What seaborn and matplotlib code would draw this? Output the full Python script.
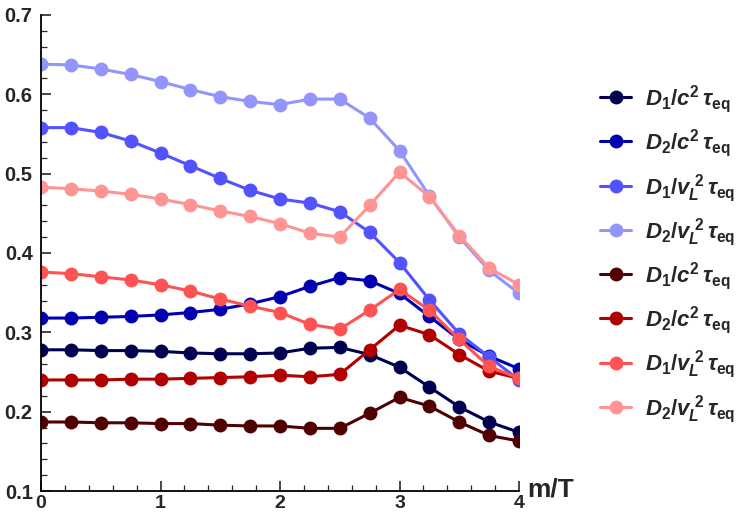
"""Transport coefficients vs m/T, eight series with markers."""

import matplotlib
matplotlib.use("Agg")
import matplotlib.pyplot as plt
import pandas as pd
import seaborn as sns
from matplotlib.ticker import FuncFormatter, MultipleLocator

m_over_t = [0, 0.25, 0.5, 0.75, 1, 1.25, 1.5, 1.75, 2,
            2.25, 2.5, 2.75, 3, 3.25, 3.5, 3.75, 4]

blue_d1_c2 = [0.278, 0.278, 0.277, 0.277, 0.276, 0.274, 0.273, 0.273, 0.274,
              0.280, 0.281, 0.272, 0.256, 0.231, 0.206, 0.187, 0.174]
blue_d2_c2 = [0.318, 0.318, 0.319, 0.320, 0.322, 0.325, 0.329, 0.336, 0.345,
              0.358, 0.369, 0.365, 0.349, 0.320, 0.291, 0.270, 0.254]
blue_d1_vl2 = [0.558, 0.558, 0.552, 0.541, 0.526, 0.510, 0.494, 0.479, 0.468,
               0.463, 0.452, 0.426, 0.388, 0.341, 0.298, 0.269, 0.240]
blue_d2_vl2 = [0.638, 0.637, 0.632, 0.625, 0.616, 0.606, 0.597, 0.591, 0.587,
               0.594, 0.594, 0.570, 0.529, 0.472, 0.420, 0.378, 0.349]
red_d1_c2 = [0.187, 0.187, 0.186, 0.186, 0.185, 0.185, 0.183, 0.182, 0.182,
             0.179, 0.179, 0.198, 0.218, 0.207, 0.187, 0.170, 0.163]
red_d2_c2 = [0.240, 0.240, 0.240, 0.241, 0.241, 0.242, 0.243, 0.244, 0.246,
             0.244, 0.247, 0.278, 0.309, 0.297, 0.272, 0.251, 0.242]
red_d1_vl2 = [0.376, 0.374, 0.370, 0.366, 0.360, 0.352, 0.342, 0.333, 0.325,
              0.310, 0.304, 0.328, 0.354, 0.328, 0.291, 0.257, 0.242]
red_d2_vl2 = [0.483, 0.481, 0.478, 0.474, 0.468, 0.461, 0.453, 0.446, 0.437,
              0.425, 0.420, 0.460, 0.502, 0.471, 0.422, 0.381, 0.360]

# trailing space keeps the red labels distinct from the blue ones
series = [
    (r"$D_{1}/c^{2}\,\tau_{\mathrm{eq}}$", blue_d1_c2, "#000050"),
    (r"$D_{2}/c^{2}\,\tau_{\mathrm{eq}}$", blue_d2_c2, "#0000B0"),
    (r"$D_{1}/v_{L}^{\ 2}\,\tau_{\mathrm{eq}}$", blue_d1_vl2, "#5252FF"),
    (r"$D_{2}/v_{L}^{\ 2}\,\tau_{\mathrm{eq}}$", blue_d2_vl2, "#9494FF"),
    (r"$D_{1}/c^{2}\,\tau_{\mathrm{eq}}$ ", red_d1_c2, "#500000"),
    (r"$D_{2}/c^{2}\,\tau_{\mathrm{eq}}$ ", red_d2_c2, "#B00000"),
    (r"$D_{1}/v_{L}^{\ 2}\,\tau_{\mathrm{eq}}$ ", red_d1_vl2, "#FF5252"),
    (r"$D_{2}/v_{L}^{\ 2}\,\tau_{\mathrm{eq}}$ ", red_d2_vl2, "#FF9494"),
]

sns.set_style("ticks")
plt.rcParams["font.family"] = ["Liberation Sans", "DejaVu Sans"]
plt.rcParams["font.weight"] = "bold"
plt.rcParams["mathtext.fontset"] = "custom"
plt.rcParams["mathtext.it"] = "Liberation Sans:bold:italic"
plt.rcParams["mathtext.rm"] = "Liberation Sans:bold"
plt.rcParams["mathtext.bf"] = "Liberation Sans:bold"

fig = plt.figure(figsize=(7.4, 5.16), dpi=100)
ax = fig.add_axes([0.0554, 0.0484, 0.646, 0.9226])

for label, values, color in series:
    df = pd.DataFrame({"x": m_over_t, "y": values})
    sns.lineplot(data=df, x="x", y="y", ax=ax, color=color, lw=2.2,
                 marker="o", markersize=10, markeredgewidth=0, label=label)

ax.set_xlim(0, 4)
ax.set_ylim(0.1, 0.7)
ax.xaxis.set_major_locator(MultipleLocator(1))
ax.xaxis.set_minor_locator(MultipleLocator(0.2))
ax.yaxis.set_major_locator(MultipleLocator(0.1))
ax.yaxis.set_minor_locator(MultipleLocator(0.02))
ax.xaxis.set_major_formatter(FuncFormatter(lambda v, p: f"{v:.0f}"))
ax.yaxis.set_major_formatter(FuncFormatter(lambda v, p: f"{v:.1f}"))
ax.tick_params(which="major", direction="in", length=7, width=1.2,
               labelsize=14.5, pad=6)
ax.tick_params(axis="x", which="major", labelsize=14, pad=3)
ax.tick_params(which="minor", direction="in", length=4, width=0.9)
for s in ("top", "right"):
    ax.spines[s].set_visible(False)
for s in ("left", "bottom"):
    ax.spines[s].set_linewidth(1.3)
    ax.spines[s].set_color("black")
for t in ax.get_xticklabels() + ax.get_yticklabels():
    t.set_fontweight("bold")
ax.set_xlabel("")
ax.set_ylabel("")
ax.text(1.017, 0.004, "m/T", transform=ax.transAxes, fontsize=19,
        fontweight="bold", ha="left", va="center")

ax.legend(loc="center left", bbox_to_anchor=(0.811, 0.508),
          bbox_transform=fig.transFigure, frameon=False, borderpad=0,
          borderaxespad=0, fontsize=16, handlelength=1.4, labelspacing=0.55,
          handletextpad=0.6)
ax.grid(False)

fig.savefig("out.png", dpi=100)
plt.close(fig)
